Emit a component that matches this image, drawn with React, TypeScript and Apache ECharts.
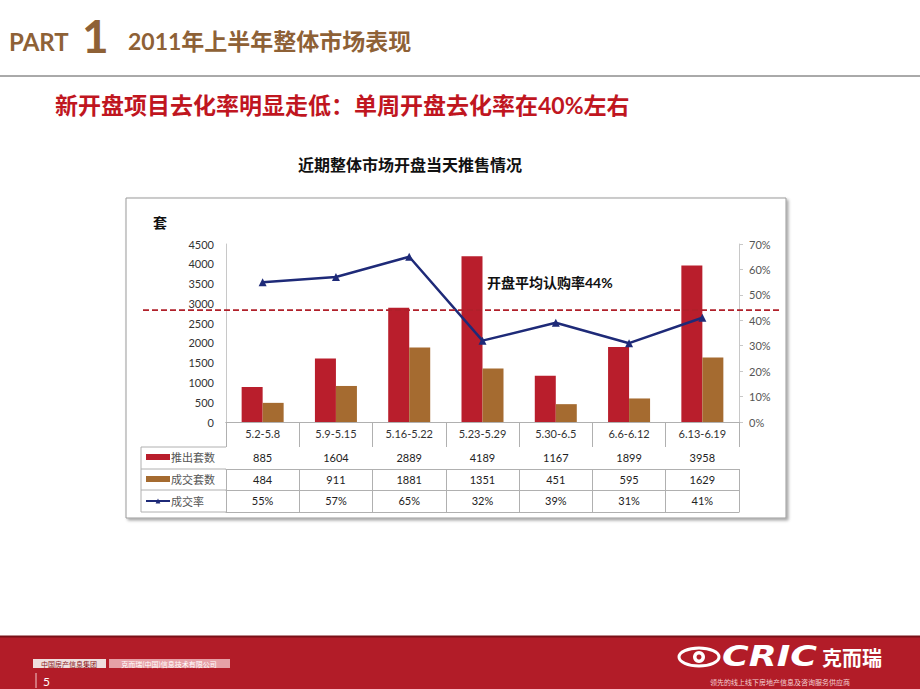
import React, { useEffect, useRef } from "react";
import * as echarts from "echarts";

const categories = ["5.2-5.8", "5.9-5.15", "5.16-5.22", "5.23-5.29", "5.30-6.5", "6.6-6.12", "6.13-6.19"];
const launchedUnits = [885, 1604, 2889, 4189, 1167, 1899, 3958];
const soldUnits = [484, 911, 1881, 1351, 451, 595, 1629];
const sellThroughPct = [55, 57, 65, 32, 39, 31, 41];
const averagePct = 44;
const seriesNames = ["推出套数", "成交套数", "成交率"];
const leftAxisRange = { min: 0, max: 4500, interval: 500 };
const rightAxisRange = { min: 0, max: 70, interval: 10 };

const FONT = "Lato, 'Noto Sans CJK SC', sans-serif";
const CJK = "'Noto Sans CJK SC', 'Noto Sans', sans-serif";
const BROWN = "#8E6136";
const RED = "#C0161F";
const LINE_GRAY = "#b0b0b0";

const PLOT = { left: 226, right: 739, top: 244, bottom: 422 };
const ROW_OFFSETS = [25, 47, 68, 90];

export default function App() {
  const ref = useRef<HTMLDivElement>(null);

  useEffect(() => {
    if (!ref.current) return;
    const chart = echarts.init(ref.current, null, { renderer: "svg" });

    const tableAxis = (values: string[], offset: number, tickLen: number) => ({
      type: "category",
      data: values,
      position: "bottom",
      offset,
      axisLine: { show: true, lineStyle: { color: LINE_GRAY } },
      axisTick: { show: tickLen > 0, length: tickLen, lineStyle: { color: LINE_GRAY } },
      axisLabel: { show: tickLen > 0, interval: 0, margin: 5, fontSize: 11, color: "#222", fontFamily: FONT },
      splitLine: { show: false },
    });

    const rowTop = (i: number) => PLOT.bottom + ROW_OFFSETS[i];
    const headerLeft = 141;

    const baseGraphic: any[] = [
      // chart frame
      {
        type: "rect", z: -10,
        shape: { x: 126, y: 198, width: 660, height: 320 },
        style: { fill: "#fff", stroke: "#9a9a9a", lineWidth: 1, shadowBlur: 3, shadowOffsetX: 2, shadowOffsetY: 2, shadowColor: "rgba(0,0,0,0.35)" },
      },
      // header
      { type: "text", x: 9, y: 41, style: { text: "PART", font: `bold 24px ${FONT}`, fill: BROWN, verticalAlign: "middle" } },
      { type: "text", x: 82, y: 35, style: { text: "1", font: `bold 46px ${FONT}`, fill: BROWN, verticalAlign: "middle" } },
      { type: "text", x: 128, y: 41, style: { text: "2011年上半年整体市场表现", font: `bold 23px ${FONT}`, fill: BROWN, verticalAlign: "middle" } },
      { type: "line", shape: { x1: 0, y1: 76, x2: 920, y2: 76 }, style: { stroke: "#555", lineWidth: 1 } },
      { type: "text", x: 55, y: 105, style: { text: "新开盘项目去化率明显走低：单周开盘去化率在40%左右", font: `bold 23px ${FONT}`, fill: RED, verticalAlign: "middle" } },
      { type: "text", x: 410, y: 164, style: { text: "近期整体市场开盘当天推售情况", font: `bold 16px ${CJK}`, fill: "#111", align: "center", verticalAlign: "middle" } },
      { type: "text", x: 153, y: 222, style: { text: "套", font: `bold 14px ${CJK}`, fill: "#111", verticalAlign: "middle" } },
      // table header column lines
      { type: "line", shape: { x1: headerLeft, y1: rowTop(0), x2: headerLeft, y2: rowTop(3) }, style: { stroke: LINE_GRAY, lineWidth: 1 } },
      ...[0, 1, 2, 3].map((i) => ({
        type: "line", shape: { x1: headerLeft, y1: rowTop(i), x2: PLOT.left, y2: rowTop(i) }, style: { stroke: LINE_GRAY, lineWidth: 1 },
      })),
      // footer
      { type: "rect", shape: { x: 0, y: 636, width: 920, height: 53 }, style: { fill: "#B21C28" } },
      { type: "line", shape: { x1: 0, y1: 636.5, x2: 920, y2: 636.5 }, style: { stroke: "#7a1018", lineWidth: 2 } },
      { type: "rect", shape: { x: 33, y: 659, width: 73, height: 9 }, style: { fill: "#efdede" } },
      { type: "text", x: 69, y: 663.5, style: { text: "中国房产信息集团", font: `7px ${CJK}`, fill: "#8a1a22", align: "center", verticalAlign: "middle" } },
      { type: "rect", shape: { x: 109, y: 659, width: 121, height: 9 }, style: { fill: "#e6a0a6" } },
      { type: "text", x: 169, y: 663.5, style: { text: "克而瑞(中国)信息技术有限公司", font: `7px ${CJK}`, fill: "#fff", align: "center", verticalAlign: "middle" } },
      { type: "line", shape: { x1: 36, y1: 673, x2: 36, y2: 688 }, style: { stroke: "#f3c9cc", lineWidth: 1 } },
      { type: "text", x: 43, y: 681, style: { text: "5", font: `12px ${FONT}`, fill: "#fff", verticalAlign: "middle" } },
      { type: "ellipse", shape: { cx: 699, cy: 657, rx: 20, ry: 9 }, style: { fill: "none", stroke: "#fff", lineWidth: 3 } },
      { type: "circle", shape: { cx: 699, cy: 657, r: 6 }, style: { fill: "#fff" } },
      { type: "circle", shape: { cx: 699, cy: 657, r: 2.5 }, style: { fill: "#B21C28" } },
      { type: "text", x: 722, y: 657, scaleX: 1.3, style: { text: "CRIC", font: `italic bold 28px 'DejaVu Sans', sans-serif`, fill: "#fff", verticalAlign: "middle" } },
      { type: "text", x: 822, y: 657, style: { text: "克而瑞", font: `bold 20px ${CJK}`, fill: "#fff", verticalAlign: "middle" } },
      { type: "text", x: 780, y: 682, style: { text: "领先的线上线下房地产信息及咨询服务供应商", font: `7px ${CJK}`, fill: "#f4d4d6", align: "center", verticalAlign: "middle" } },
    ];

    const option: any = {
      animation: false,
      backgroundColor: "#fff",
      grid: { left: PLOT.left, right: 920 - PLOT.right, top: PLOT.top, bottom: 689 - PLOT.bottom, containLabel: false },
      legend: {
        orient: "vertical",
        left: 145,
        top: rowTop(0) + 3,
        padding: 0,
        itemWidth: 24,
        itemHeight: 6,
        itemGap: 8,
        selectedMode: false,
        textStyle: { fontSize: 11, color: "#555", fontFamily: CJK, lineHeight: 14, padding: [0, 0, 0, -4] },
        data: [
          { name: seriesNames[0], icon: "rect" },
          { name: seriesNames[1], icon: "rect" },
          { name: seriesNames[2] },
        ],
      },
      xAxis: [
        {
          type: "category",
          data: categories,
          position: "bottom",
          axisLine: { show: true, lineStyle: { color: LINE_GRAY } },
          axisTick: { show: true, length: ROW_OFFSETS[0], lineStyle: { color: LINE_GRAY } },
          axisLabel: { interval: 0, margin: 6, fontSize: 11, color: "#333", fontFamily: FONT },
          splitLine: { show: false },
        },
        tableAxis(launchedUnits.map(String), ROW_OFFSETS[0], ROW_OFFSETS[1] - ROW_OFFSETS[0]),
        tableAxis(soldUnits.map(String), ROW_OFFSETS[1], ROW_OFFSETS[2] - ROW_OFFSETS[1]),
        tableAxis(sellThroughPct.map((v) => v + "%"), ROW_OFFSETS[2], ROW_OFFSETS[3] - ROW_OFFSETS[2]),
        tableAxis(categories, ROW_OFFSETS[3], 0),
      ],
      yAxis: [
        {
          type: "value",
          min: leftAxisRange.min,
          max: leftAxisRange.max,
          interval: leftAxisRange.interval,
          axisLine: { show: true, lineStyle: { color: "#c8c8c8" } },
          axisTick: { show: false },
          axisLabel: { margin: 12, fontSize: 11, color: "#333", fontFamily: FONT, formatter: (v: number) => String(v) },
          splitLine: { show: false },
        },
        {
          type: "value",
          min: rightAxisRange.min,
          max: rightAxisRange.max,
          interval: rightAxisRange.interval,
          position: "right",
          axisLine: { show: true, lineStyle: { color: "#c8c8c8" } },
          axisTick: { show: true, length: 4, lineStyle: { color: "#c8c8c8" } },
          axisLabel: { margin: 10, fontSize: 11, color: "#555", fontFamily: FONT, formatter: "{value}%" },
          splitLine: { show: false },
        },
      ],
      series: [
        {
          name: seriesNames[0], type: "bar", xAxisIndex: 0, yAxisIndex: 0,
          data: launchedUnits, barWidth: 21, barGap: "0%",
          itemStyle: { color: "#B91E2C" },
        },
        {
          name: seriesNames[1], type: "bar", xAxisIndex: 0, yAxisIndex: 0,
          data: soldUnits, barWidth: 21, barGap: "0%",
          itemStyle: { color: "#A56B30" },
        },
        {
          name: seriesNames[2], type: "line", xAxisIndex: 0, yAxisIndex: 1,
          data: sellThroughPct, symbol: "triangle", symbolSize: 8,
          lineStyle: { color: "#1E2A78", width: 2.5 },
          itemStyle: { color: "#1E2A78" },
          z: 5,
        },
      ],
      graphic: { elements: baseGraphic },
    };

    chart.setOption(option);

    const yAvg = chart.convertToPixel({ yAxisIndex: 1 }, averagePct) as number;
    chart.setOption({
      graphic: {
        elements: [
          ...baseGraphic,
          {
            type: "line", z: 10,
            shape: { x1: 143, y1: yAvg, x2: 782, y2: yAvg },
            style: { stroke: "#B0202A", lineWidth: 1.8, lineDash: [6, 3] },
          },
          {
            type: "text", z: 10, x: 487, y: yAvg - 28,
            style: { text: `开盘平均认购率${averagePct}%`, font: `bold 14px ${FONT}`, fill: "#111", verticalAlign: "middle" },
          },
        ],
      },
    });

    return () => chart.dispose();
  }, []);

  return (
    <div
      ref={ref}
      style={{ position: "absolute", left: 0, top: 0, width: 920, height: 689, background: "#fff" }}
    />
  );
}
